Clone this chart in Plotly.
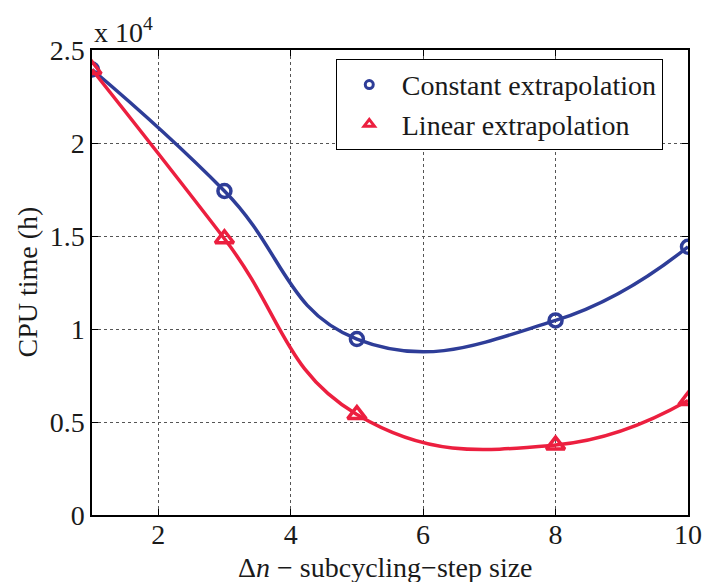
import plotly.graph_objects as go

dn = [1, 3, 5, 8, 10]
constant_h = [23950, 17420, 9460, 10460, 14420]
linear_h = [23950, 14850, 5400, 3760, 6150]

x_ticks = [2, 4, 6, 8, 10]
y_ticks = [0, 5000, 10000, 15000, 20000, 25000]
y_labels = ["0", "0.5", "1", "1.5", "2", "2.5"]

blue = "#2E3D98"
red = "#EC1F3F"
font = "Liberation Serif"
fs = 28
txt = "#1a1a1a"

fig = go.Figure()
fig.add_trace(go.Scatter(x=dn, y=constant_h, mode="lines+markers", line=dict(color=blue, width=3.5, shape="spline", smoothing=1.3),
                         marker=dict(symbol="circle-open", size=13, color=blue, line=dict(width=3.5, color=blue)), showlegend=False))
fig.add_trace(go.Scatter(x=dn, y=linear_h, mode="lines+markers", line=dict(color=red, width=3.5, shape="spline", smoothing=1.3),
                         marker=dict(symbol="triangle-up-open", size=16, color=red, line=dict(width=3.5, color=red)), showlegend=False))
fig.add_trace(go.Scatter(x=[None], y=[None], mode="markers", name="Constant extrapolation",
                         marker=dict(symbol="circle-open", size=8, color=blue, line=dict(width=3, color=blue))))
fig.add_trace(go.Scatter(x=[None], y=[None], mode="markers", name="Linear extrapolation",
                         marker=dict(symbol="triangle-up-open", size=9, color=red, line=dict(width=3, color=red))))

axis_common = dict(showline=True, linecolor="black", linewidth=1.5, mirror="ticks", ticks="inside", ticklen=6,
                   tickcolor="black", showgrid=True, gridcolor="#555555", griddash="dot", gridwidth=1, zeroline=False,
                   tickfont=dict(family=font, size=fs, color=txt), automargin=False)
fig.update_xaxes(range=[1, 10], tickvals=x_ticks, ticklabelstandoff=-6, **axis_common)
fig.update_yaxes(range=[0, 25000], tickvals=y_ticks, ticktext=y_labels, **axis_common)

fig.add_annotation(xref="paper", yref="paper", x=0.0, y=1.0, xanchor="left", yanchor="bottom", yshift=0,
                   text="x 10<sup>4</sup>", showarrow=False, font=dict(family=font, size=fs, color=txt))
fig.add_annotation(xref="paper", yref="paper", x=0.493, y=-0.112, xanchor="center", yanchor="middle",
                   text="Δ<i>n</i> − subcycling−step size", showarrow=False, font=dict(family=font, size=fs, color=txt))
fig.add_annotation(xref="paper", yref="paper", x=-0.109, y=0.5, xanchor="center", yanchor="middle", textangle=-90,
                   text="CPU time (h)", showarrow=False, font=dict(family=font, size=fs, color=txt))

fig.update_layout(width=704, height=582, margin=dict(l=92, r=16, t=50, b=67),
                  plot_bgcolor="white", paper_bgcolor="white",
                  legend=dict(x=0.409, y=0.981, xanchor="left", yanchor="top", bordercolor="black", borderwidth=1,
                              bgcolor="white", font=dict(family=font, size=fs, color=txt), tracegroupgap=0,
                              itemsizing="trace", itemwidth=55))

fig.write_html("out.html")
